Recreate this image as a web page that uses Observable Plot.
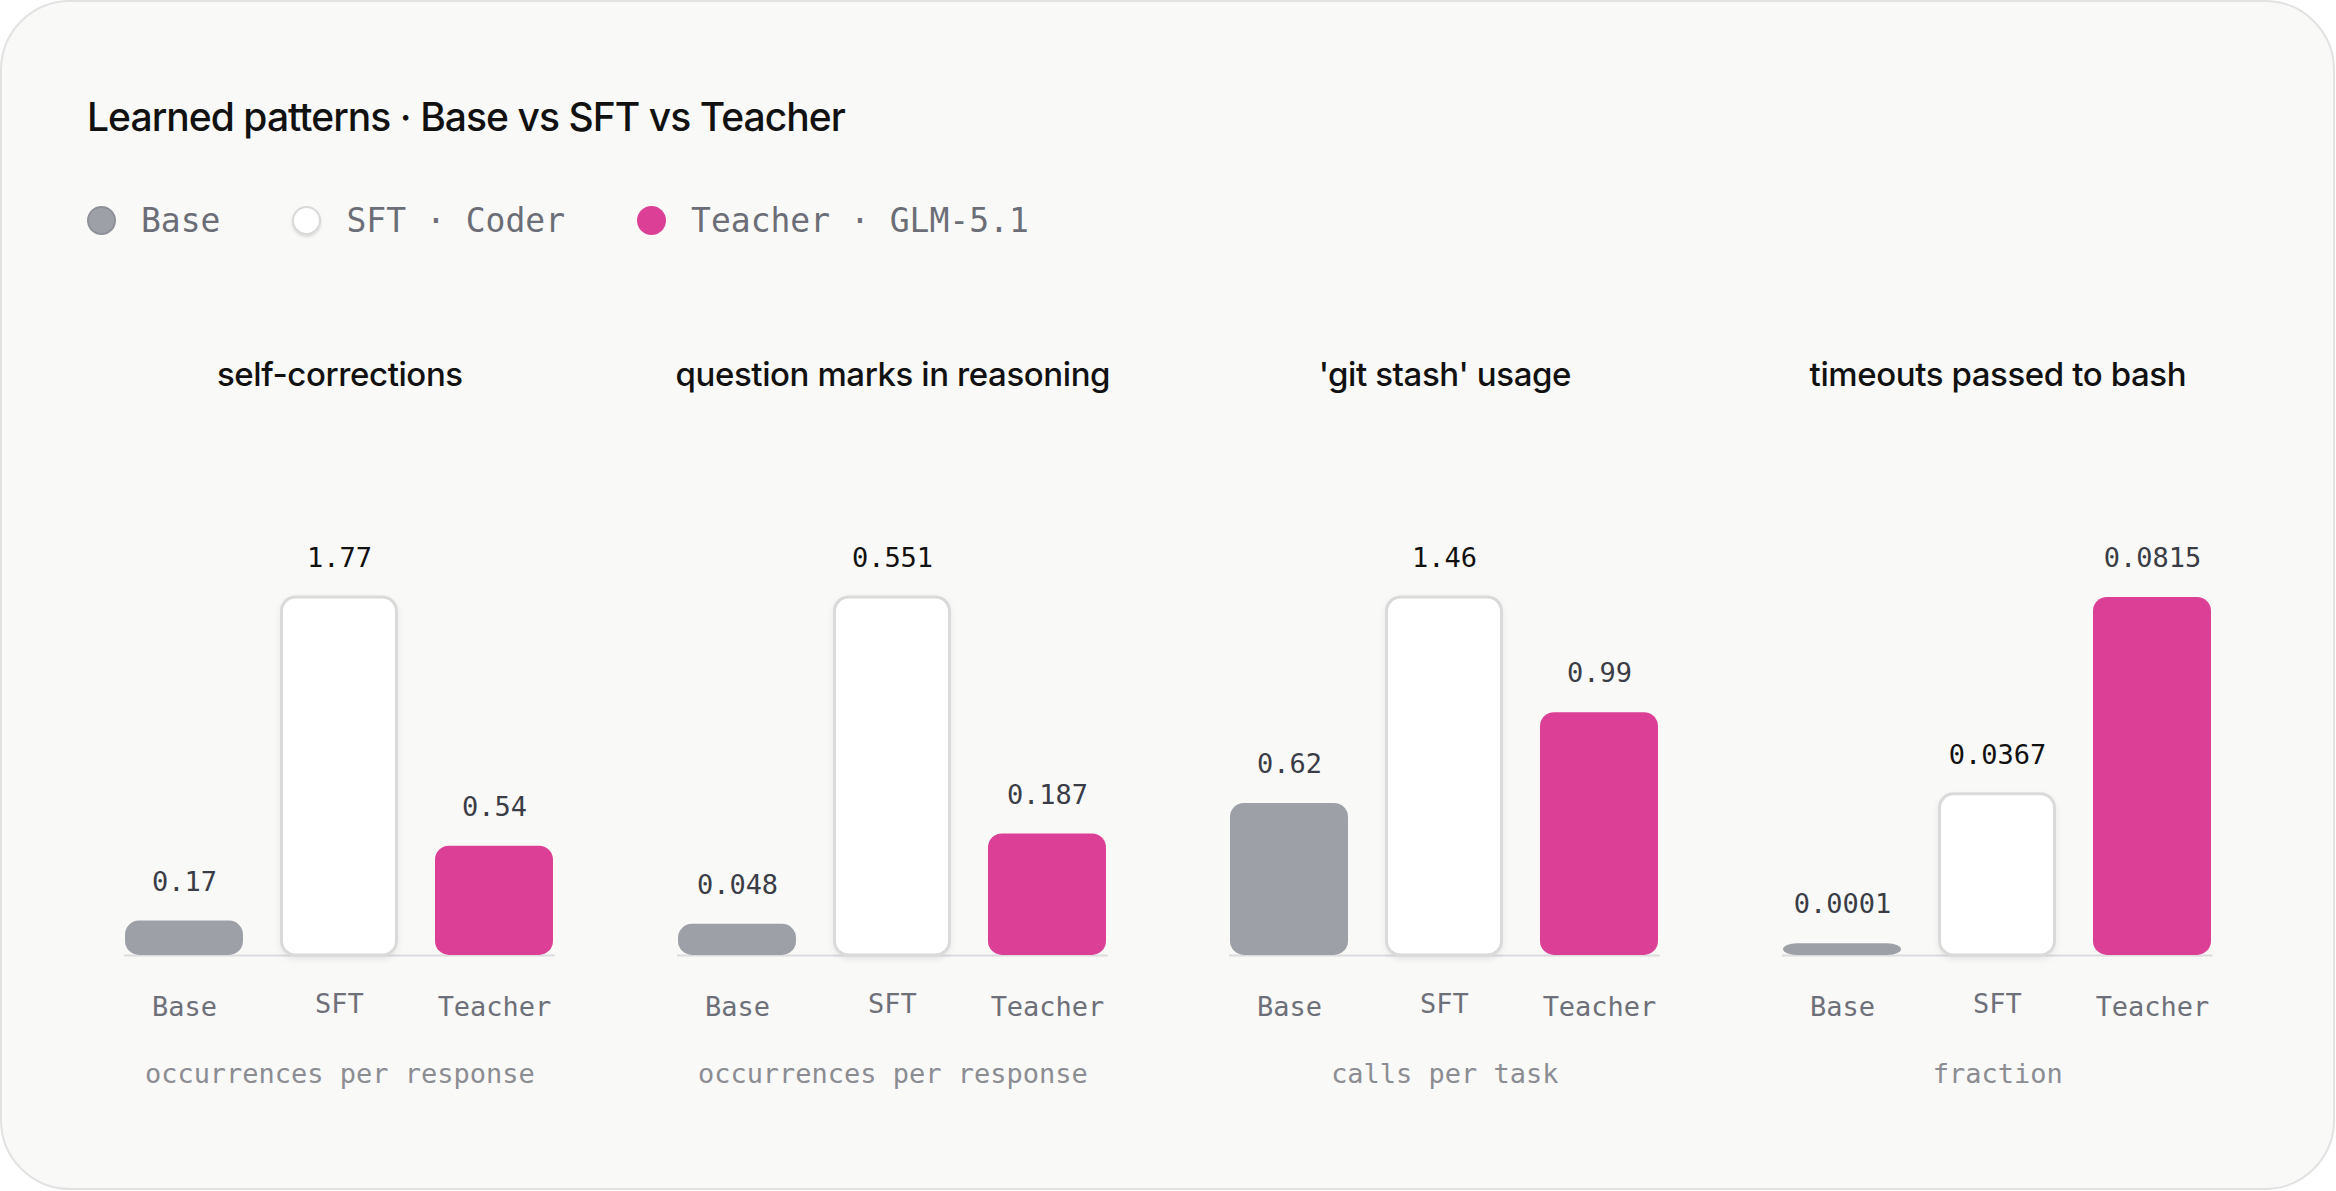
<!DOCTYPE html>
<html><head><meta charset="utf-8">
<script src="https://cdn.jsdelivr.net/npm/d3@7"></script>
<script src="https://cdn.jsdelivr.net/npm/@observablehq/plot@0.6"></script>
<style>
html,body{margin:0;padding:0;background:#fff;width:2336px;height:1191px;overflow:hidden}
#card{position:absolute;left:0;top:0;width:2335px;height:1190px;box-sizing:border-box;border:2px solid #e2e2e2;border-radius:70px;background:#f9f9f7}
#title{position:absolute;left:87px;top:97px;font-family:Inter,sans-serif;font-weight:500;font-size:39px;letter-spacing:-0.95px;color:#111;line-height:40px;white-space:nowrap}
#legend{position:absolute;left:87px;top:200px;height:40px;display:flex;align-items:center;font-family:"DejaVu Sans Mono",monospace;font-size:33px;color:#6b6e76;white-space:nowrap}
.item{display:flex;align-items:center;margin-right:72px}
.dot{width:29px;height:29px;border-radius:50%;box-sizing:border-box;margin-right:25px}
.panel{position:absolute;top:340px}
</style></head>
<body>
<div id="card"></div>
<div id="title">Learned patterns · Base vs SFT vs Teacher</div>
<div id="legend"></div>
<div id="charts"></div>
<script>
const panelTitles = ["self-corrections", "question marks in reasoning", "'git stash' usage", "timeouts passed to bash"];
const unitLabels = ["occurrences per response", "occurrences per response", "calls per task", "fraction"];
const models = ["Base", "SFT", "Teacher"];
const legendLabels = ["Base", "SFT · Coder", "Teacher · GLM-5.1"];
const baseValues = [0.17, 0.048, 0.62, 0.0001];
const sftValues = [1.77, 0.551, 1.46, 0.0367];
const teacherValues = [0.54, 0.187, 0.99, 0.0815];

const seriesValues = [baseValues, sftValues, teacherValues];
const fills = {Base: "#9ea0a8", SFT: "#ffffff", Teacher: "#dc3f96"};
const dotStyles = {
  Base: "background:#9ea0a8;border:2px solid #8f9199",
  SFT: "background:#ffffff;border:2px solid #dadada;box-shadow:0 2px 3px rgba(0,0,0,0.12)",
  Teacher: "background:#dc3f96"
};

// legend
const legend = document.getElementById("legend");
models.forEach((m, j) => {
  const item = document.createElement("div");
  item.className = "item";
  const dot = document.createElement("div");
  dot.className = "dot";
  dot.style.cssText = dotStyles[m];
  const lab = document.createElement("span");
  lab.textContent = legendLabels[j];
  item.appendChild(dot); item.appendChild(lab);
  legend.appendChild(item);
});

const mono = "DejaVu Sans Mono, monospace";
const PW = 552.7;
panelTitles.forEach((title, i) => {
  const rows = models.map((m, j) => ({model: m, value: seriesValues[j][i]}));
  const max = d3.max(rows, d => d.value);
  const top = d => Math.max(d.value, max * 0.033); // minimum visible bar height
  const chart = Plot.plot({
    width: PW, height: 755,
    marginTop: 257, marginBottom: 140, marginLeft: 61, marginRight: 61,
    style: {background: "transparent", overflow: "visible"},
    x: {domain: models, paddingInner: 0.237, paddingOuter: 0, axis: null},
    y: {domain: [0, max], axis: null},
    color: {type: "identity"},
    marks: [
      Plot.ruleY([0], {stroke: "#dcdce0", strokeWidth: 2}),
      Plot.barY(rows.filter(d => d.model !== "SFT"), {x: "model", y1: 0, y2: top, fill: d => fills[d.model], rx: 14}),
      Plot.barY(rows.filter(d => d.model === "SFT"), {x: "model", y1: 0, y2: top, fill: "#ffffff", stroke: "#dadada", strokeWidth: 3, rx: 14, insetLeft: 1.5, insetRight: 1.5}),
      Plot.text(rows, {x: "model", y: top, text: d => String(d.value), dy: -39, fontSize: 27, fontFamily: mono,
        fill: d => d.model === "SFT" ? "#111111" : "#3a3d45"}),
      Plot.text(rows.filter(d => d.model !== "SFT"), {x: "model", text: "model", frameAnchor: "bottom", dy: 61, fontSize: 27, fontFamily: mono, fill: "#6e7079"}),
      Plot.text(rows.filter(d => d.model === "SFT"), {x: "model", text: "model", frameAnchor: "bottom", dy: 58, fontSize: 27, fontFamily: mono, fill: "#6e7079"}),
      Plot.text([unitLabels[i]], {frameAnchor: "bottom", dy: 128, fontSize: 27, fontFamily: mono, fill: "#8b8d93"}),
      Plot.text([title], {frameAnchor: "top", dy: -235, fontSize: 33, fontFamily: "Inter, sans-serif", fontWeight: 500, fill: "#111111"})
    ]
  });
  const bars = chart.querySelectorAll('g[aria-label="bar"]');
  if (bars[1]) bars[1].style.filter = "drop-shadow(0 3px 3px rgba(0,0,0,0.07))";
  const texts = chart.querySelectorAll('g[aria-label="text"]');
  const last = texts[texts.length - 1];
  if (last) last.style.letterSpacing = "-0.4px";
  const wrap = document.createElement("div");
  wrap.className = "panel";
  wrap.style.left = (63 + i * PW) + "px";
  wrap.appendChild(chart);
  document.getElementById("charts").appendChild(wrap);
});
</script>
</body></html>
